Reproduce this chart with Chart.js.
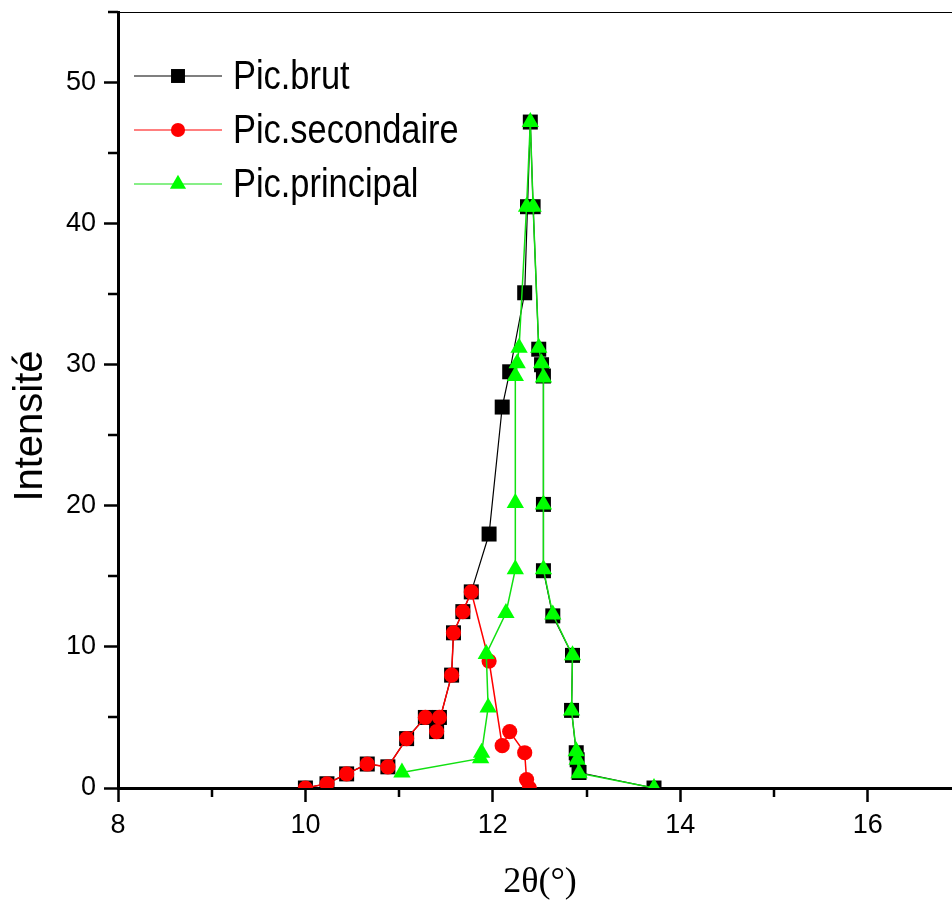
<!DOCTYPE html>
<html>
<head>
<meta charset="utf-8">
<script src="https://cdn.jsdelivr.net/npm/chart.js@4"></script>
<style>
  html, body { margin: 0; padding: 0; background: #fff; overflow: hidden; }
  #wrap { width: 952px; height: 906px; position: relative; }
  canvas { display: block; }
</style>
</head>
<body>
<div id="wrap"><canvas id="chart"></canvas></div>
<script>
// values
const brutX = [10.00, 10.23, 10.44, 10.66, 10.88, 11.08, 11.28, 11.43, 11.40, 11.56, 11.58, 11.68, 11.77, 11.96, 12.10, 12.18, 12.34, 12.37, 12.40, 12.43, 12.49, 12.52, 12.54, 12.54, 12.54, 12.64, 12.85, 12.84, 12.89, 12.90, 12.92, 13.72]
const brutY = [0, 0.3, 1.0, 1.7, 1.5, 3.5, 5.0, 5.0, 4.0, 8.0, 11.0, 12.5, 13.9, 18.0, 27.0, 29.5, 35.1, 41.2, 47.2, 41.2, 31.1, 30.0, 29.2, 20.1, 15.4, 12.2, 9.4, 5.5, 2.5, 2.0, 1.1, 0]

const secX = [10.00, 10.23, 10.44, 10.66, 10.88, 11.08, 11.28, 11.43, 11.40, 11.56, 11.58, 11.68, 11.77, 11.96, 12.10, 12.18, 12.34, 12.36, 12.39]
const secY = [0, 0.3, 1.0, 1.7, 1.5, 3.5, 5.0, 5.0, 4.0, 8.0, 11.0, 12.5, 13.9, 9.0, 3.0, 4.0, 2.5, 0.6, 0]

const prinX = [11.03, 11.87, 11.88, 11.95, 11.93, 12.14, 12.24, 12.24, 12.24, 12.26, 12.28, 12.36, 12.40, 12.43, 12.49, 12.52, 12.54, 12.54, 12.54, 12.64, 12.85, 12.84, 12.89, 12.90, 12.92, 13.72]
const prinY = [1.1, 2.1, 2.5, 5.7, 9.5, 12.4, 15.5, 20.2, 29.2, 30.1, 31.2, 41.2, 47.2, 41.2, 31.2, 30.1, 29.1, 20.1, 15.5, 12.3, 9.4, 5.5, 2.6, 2.0, 1.05, 0]

const seriesNames = ["Pic.brut", "Pic.secondaire", "Pic.principal"]
const xMajorTicks = [8, 10, 12, 14, 16]
const xMinorTicks = [9, 11, 13, 15]
const yMajorTicks = [0, 10, 20, 30, 40, 50]
const yMinorTicks = [5, 15, 25, 35, 45, 55]
const xTitle = "2θ(°)"
const yTitle = "Intensité"

const pts = (xs, ys) => xs.map((x, i) => ({ x: x, y: ys[i] }))

const SANS = "'Liberation Sans', Arial, sans-serif"
const SERIF = "'Liberation Serif', 'Times New Roman', serif"

const styles = [
  { line: "#000000", fill: "#000000", shape: "rect", radius: 10.6, width: 1.2, order: 3 },
  { line: "#ff0000", fill: "#ff0000", shape: "circle", radius: 7.6, width: 1.5, order: 2 },
  { line: "#11e011", fill: "#00ff00", shape: "triangle", radius: 10, width: 1.5, order: 1 },
]

const data = [pts(brutX, brutY), pts(secX, secY), pts(prinX, prinY)]

const extras = {
  id: "extras",
  afterDraw(chart) {
    const ctx = chart.ctx
    const area = chart.chartArea
    const xs = chart.scales.x
    const ys = chart.scales.y
    ctx.save()
    ctx.strokeStyle = "#000"

    // top frame line
    ctx.lineWidth = 1
    ctx.beginPath()
    ctx.moveTo(area.left, area.top + 0.5)
    ctx.lineTo(area.right, area.top + 0.5)
    ctx.stroke()

    // minor ticks
    ctx.lineWidth = 2.5
    ctx.beginPath()
    xMinorTicks.forEach(v => {
      const px = Math.round(xs.getPixelForValue(v))
      ctx.moveTo(px, area.bottom)
      ctx.lineTo(px, area.bottom + 9)
    })
    yMinorTicks.forEach(v => {
      const py = Math.round(ys.getPixelForValue(v))
      ctx.moveTo(area.left, py)
      ctx.lineTo(area.left - 10, py)
    })
    ctx.stroke()

    // axis titles
    ctx.fillStyle = "#000"
    ctx.textAlign = "center"
    ctx.textBaseline = "middle"
    ctx.font = "36px " + SERIF
    ctx.fillText(xTitle, 540, 883)
    ctx.save()
    ctx.translate(31, 426)
    ctx.rotate(-Math.PI / 2)
    ctx.font = "40px " + SANS
    ctx.fillText(yTitle, 0, 0)
    ctx.restore()

    // legend
    seriesNames.forEach((name, i) => {
      const s = styles[i]
      const y = 76 + i * 54
      ctx.strokeStyle = s.line
      ctx.lineWidth = 1.2
      ctx.beginPath()
      ctx.moveTo(134, y)
      ctx.lineTo(222, y)
      ctx.stroke()
      ctx.fillStyle = s.fill
      Chart.helpers.drawPoint(ctx, { pointStyle: s.shape, radius: s.radius * 0.93, rotation: 0, borderWidth: 0 }, 178, y)
      ctx.fillStyle = "#000"
      ctx.textAlign = "left"
      ctx.textBaseline = "middle"
      ctx.font = "40px " + SANS
      ctx.save()
      ctx.translate(233, y + 2)
      ctx.scale(0.86, 1)
      ctx.fillText(name, 0, 0)
      ctx.restore()
    })
    ctx.restore()
  },
}

new Chart(document.getElementById("chart"), {
  type: "line",
  data: {
    datasets: data.map((d, i) => ({
      label: seriesNames[i],
      data: d,
      order: styles[i].order,
      borderColor: styles[i].line,
      borderWidth: styles[i].width,
      backgroundColor: styles[i].fill,
      pointStyle: styles[i].shape,
      pointRadius: styles[i].radius,
      pointBackgroundColor: styles[i].fill,
      pointBorderWidth: 0,
      tension: 0,
      fill: false,
    })),
  },
  options: {
    responsive: true,
    maintainAspectRatio: false,
    animation: false,
    layout: { autoPadding: false, padding: { top: 12, right: 0, left: 0, bottom: 0 } },
    plugins: {
      legend: { display: false },
      tooltip: { enabled: false },
    },
    scales: {
      x: {
        type: "linear",
        min: 8,
        max: 16.9,
        afterBuildTicks: scale => { scale.ticks = xMajorTicks.map(v => ({ value: v })) },
        afterFit: scale => { scale.height = 118; scale.paddingLeft = 0; scale.paddingRight = 0 },
        ticks: {
          autoSkip: false,
          maxRotation: 0,
          padding: 7,
          color: "#000",
          font: { family: SANS, size: 27 },
        },
        grid: { drawOnChartArea: false, tickLength: 14, tickWidth: 2.5, tickColor: "#000" },
        border: { display: true, color: "#000", width: 3 },
      },
      y: {
        type: "linear",
        min: 0,
        max: 55,
        afterBuildTicks: scale => { scale.ticks = yMajorTicks.map(v => ({ value: v })) },
        afterFit: scale => { scale.width = 118; scale.paddingTop = 0; scale.paddingBottom = 0 },
        ticks: {
          autoSkip: false,
          padding: 8,
          color: "#000",
          font: { family: SANS, size: 27 },
        },
        grid: { drawOnChartArea: false, tickLength: 14, tickWidth: 2.5, tickColor: "#000" },
        border: { display: true, color: "#000", width: 3 },
      },
    },
  },
  plugins: [extras],
})
</script>
</body>
</html>
